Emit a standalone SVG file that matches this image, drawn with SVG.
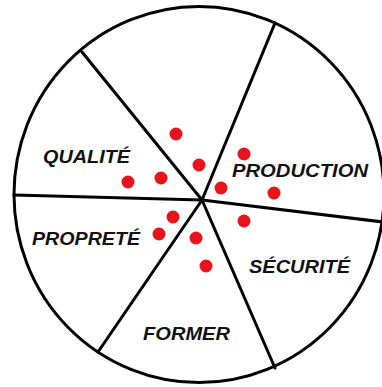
<svg xmlns="http://www.w3.org/2000/svg" width="382" height="387" viewBox="0 0 382 387">
  <style>
    .ln { stroke: #000; stroke-width: 3; fill: none; stroke-linecap: round; }
    .dot { fill: #e8141c; }
    .lbl { font-family: "Liberation Sans", Arial, sans-serif; font-size: 18px; font-style: italic; font-weight: bold; fill: #111; }
  </style>
  <rect width="382" height="387" fill="#fff"/>
  <g id="wheel">
    <ellipse class="ln" cx="199" cy="194.5" rx="185" ry="188"/>
  </g>
  <g id="connectors">
    <line class="ln" x1="202" y1="200" x2="82" y2="52"/>
    <line class="ln" x1="202" y1="200" x2="275" y2="23"/>
    <line class="ln" x1="202" y1="200" x2="383" y2="222"/>
    <line class="ln" x1="202" y1="200" x2="275" y2="368"/>
    <line class="ln" x1="202" y1="200" x2="98" y2="352"/>
    <line class="ln" x1="202" y1="200" x2="14" y2="195"/>
  </g>
  <g id="dots">
    <circle class="dot" cx="176" cy="134" r="6.5"/>
    <circle class="dot" cx="244" cy="154" r="6.5"/>
    <circle class="dot" cx="199" cy="165" r="6.5"/>
    <circle class="dot" cx="161" cy="178" r="6.5"/>
    <circle class="dot" cx="128" cy="182" r="6.5"/>
    <circle class="dot" cx="221" cy="188" r="6.5"/>
    <circle class="dot" cx="274" cy="193" r="6.5"/>
    <circle class="dot" cx="173" cy="217" r="6.5"/>
    <circle class="dot" cx="244" cy="221" r="6.5"/>
    <circle class="dot" cx="159" cy="234" r="6.5"/>
    <circle class="dot" cx="196" cy="238" r="6.5"/>
    <circle class="dot" cx="206" cy="266" r="6.5"/>
  </g>
  <g id="qualite"><text class="lbl" x="43" y="163" textLength="87" lengthAdjust="spacingAndGlyphs">QUALITÉ</text></g>
  <g id="production"><text class="lbl" x="232" y="177" textLength="136" lengthAdjust="spacingAndGlyphs">PRODUCTION</text></g>
  <g id="proprete"><text class="lbl" x="32" y="245" textLength="108" lengthAdjust="spacingAndGlyphs">PROPRETÉ</text></g>
  <g id="securite"><text class="lbl" x="249" y="273" textLength="101" lengthAdjust="spacingAndGlyphs">SÉCURITÉ</text></g>
  <g id="former"><text class="lbl" x="143" y="340" textLength="87" lengthAdjust="spacingAndGlyphs">FORMER</text></g>
</svg>
